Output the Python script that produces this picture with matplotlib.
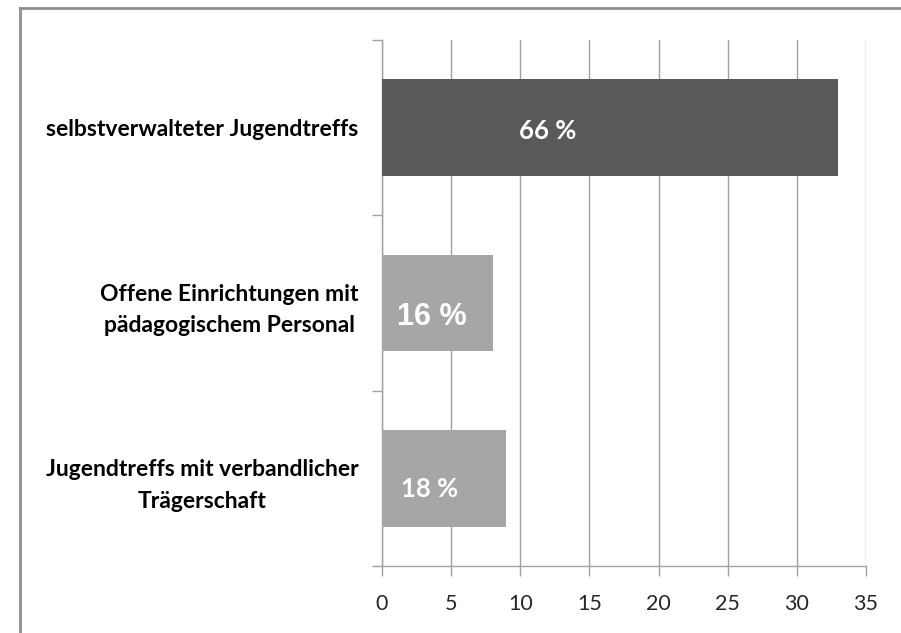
import matplotlib.pyplot as plt
from matplotlib.lines import Line2D
from matplotlib.ticker import MultipleLocator

# data, top to bottom
categories = ['selbstverwalteter Jugendtreffs',
              'Offene Einrichtungen mit\npädagogischem Personal',
              'Jugendtreffs mit verbandlicher\nTrägerschaft']
values = [33, 8, 9]
value_labels = ['66 %', '16 %', '18 %']

bar_colors = ['#595959', '#a6a6a6', '#a6a6a6']
label_x = [12.0, 3.6, 3.45]   # where the white labels sit inside the bars
label_dy = [-0.02, -0.08, -0.06]
label_fonts = ['Lato', 'Liberation Sans', 'Lato']
label_sizes = [18.5, 22, 18.5]
grid_col = '#a0a0a0'

plt.rcParams['font.family'] = ['Lato', 'DejaVu Sans']

fig = plt.figure(figsize=(9.01, 6.33), dpi=100)
ax = fig.add_axes([382 / 901, 1 - 566 / 633, (866 - 382) / 901, (566 - 40) / 633])

ypos = [len(categories) - 1 - i for i in range(len(categories))]
ax.barh(ypos, values, height=0.55, color=bar_colors, zorder=3)

for y, lab, lx, dy, fam, fs in zip(ypos, value_labels, label_x, label_dy, label_fonts, label_sizes):
    ax.text(lx, y + dy, lab, color='white', fontsize=fs, fontweight='bold',
            family=[fam, 'DejaVu Sans'], ha='center', va='center', zorder=4)

ax.set_xlim(0, 35)
ax.set_ylim(-0.5, len(categories) - 0.5)
ax.xaxis.set_major_locator(MultipleLocator(5))
ax.set_yticks([i - 0.5 for i in range(len(categories) + 1)])
ax.set_yticklabels([])
ax.set_yticks(ypos, minor=True)
ax.set_yticklabels(categories, minor=True)
ax.tick_params(axis='y', which='minor', length=0, pad=17, labelsize=16.5)
for t in ax.get_yticklabels(minor=True):
    t.set_fontweight('bold')
    t.set_multialignment('center')
    t.set_linespacing(1.6)
ax.tick_params(axis='y', which='major', length=7, color=grid_col, width=1)
ax.tick_params(axis='x', length=7.5, color=grid_col, width=1, pad=13,
               labelsize=15.5, labelcolor='#262626')

ax.grid(axis='x', color=grid_col, linewidth=1, zorder=0)
for side in ['top', 'right']:
    ax.spines[side].set_visible(False)
for side in ['left', 'bottom']:
    ax.spines[side].set_color(grid_col)
    ax.spines[side].set_linewidth(1)

# outer frame of the chart area (cut off on the right and bottom)
fig.add_artist(Line2D([20 / 901, 20 / 901], [0, 1 - 8 / 633], color='#8f8f8f', linewidth=2))
fig.add_artist(Line2D([20 / 901, 1], [1 - 8 / 633, 1 - 8 / 633], color='#8f8f8f', linewidth=2))

fig.savefig('out.png', dpi=100)
